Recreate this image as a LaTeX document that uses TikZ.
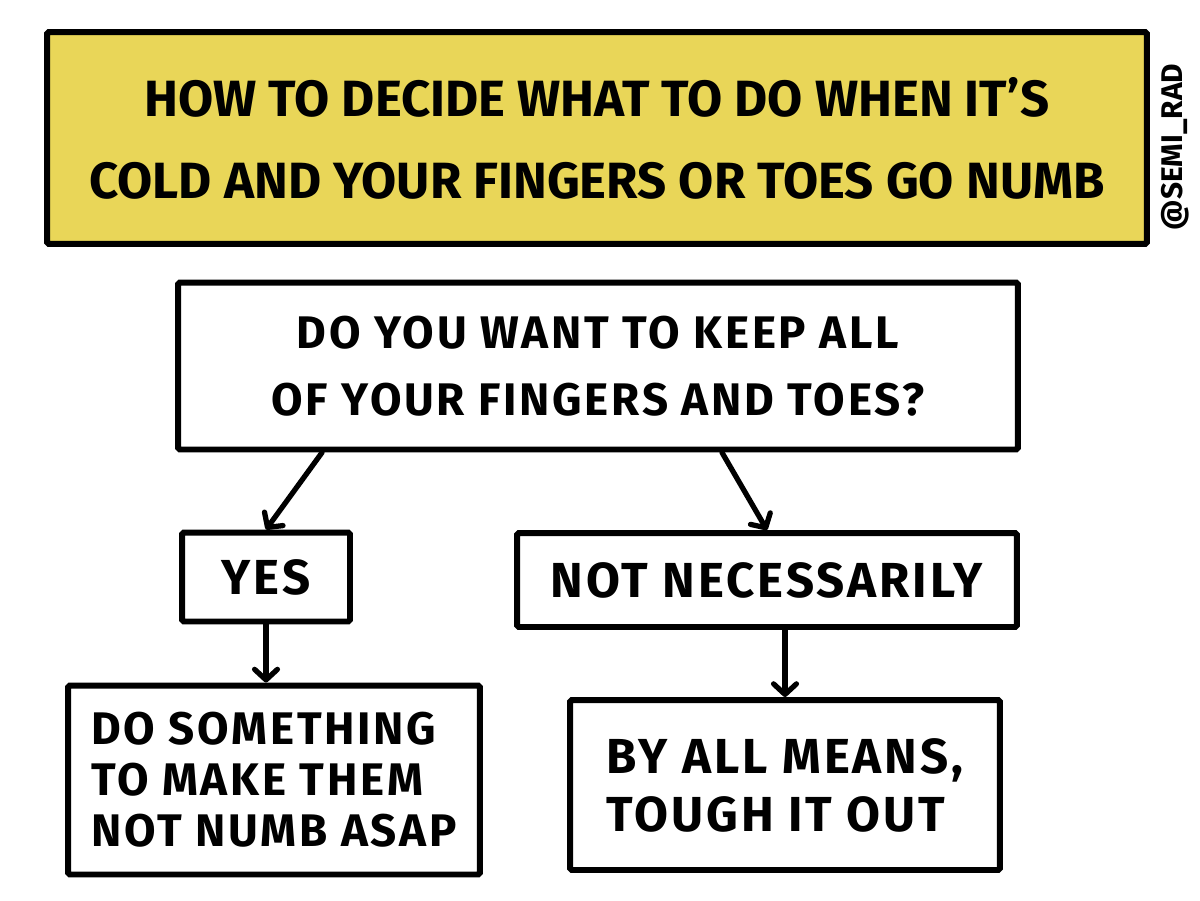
\documentclass[tikz,border=0pt]{standalone}
\usepackage{fontspec}
\setmainfont{Fira Sans}
\newfontfamily\handfont[LetterSpace=6]{Fira Sans}
\usetikzlibrary{arrows.meta,positioning}
\definecolor{titleyellow}{RGB}{233,214,88}
\begin{document}
\begin{tikzpicture}[x=0.02cm,y=-0.02cm,
		box/.style={draw,line width=3.4pt,rounded corners=1pt,align=center,inner sep=0pt},
		arrow/.style={line width=3pt,line cap=round,-{Straight Barb[length=6pt,width=13pt,line cap=round,line join=round]}}
		]
		\useasboundingbox (0,0) rectangle (1200,900);
		
		\node[box, fill=titleyellow, minimum width=22cm, minimum height=4.24cm,
		font=\bfseries\fontsize{29}{46.7}\selectfont](T) at (597,138)
		{HOW TO DECIDE WHAT TO DO WHEN IT’S\\COLD AND YOUR FINGERS OR TOES GO NUMB};
		\node[rotate=90, font=\bfseries\fontsize{17}{20}\selectfont](S) at (1175,147){@SEMI\_RAD};
		
		\node[box, minimum width=16.8cm, minimum height=3.34cm,
		font=\handfont\bfseries\fontsize{26}{38}\selectfont](Q) at (598,366)
		{DO YOU WANT TO KEEP ALL\\OF YOUR FINGERS AND TOES?};
		\node[box, minimum width=3.36cm, minimum height=1.78cm,
		font=\handfont\bfseries\fontsize{28}{34}\selectfont](Y) at (266,577){YES};
		\node[box, minimum width=10cm, minimum height=1.88cm,
		font=\handfont\bfseries\fontsize{28}{34}\selectfont](N) at (767,580){NOT NECESSARILY};
		\node[box, minimum width=8.24cm, minimum height=3.78cm, align=left,
		font=\handfont\bfseries\fontsize{26}{29}\selectfont](L) at (274,780)
		{DO SOMETHING\\TO MAKE THEM\\NOT NUMB ASAP};
		\node[box, minimum width=8.6cm, minimum height=3.4cm, align=left,
		font=\handfont\bfseries\fontsize{28}{33}\selectfont](R) at (785,785)
		{BY ALL MEANS,\\TOUGH IT OUT};
		
		\draw[arrow] ([xshift=-5.52cm]Q.south) -- (Y.north);
		\draw[arrow] ([xshift=2.48cm]Q.south) -- (N.north);
		\draw[arrow] (Y.south) -- (Y.south |- L.north);
		\draw[arrow] (N.south -| R.north) -- (R.north);
	\end{tikzpicture}
\end{document}
